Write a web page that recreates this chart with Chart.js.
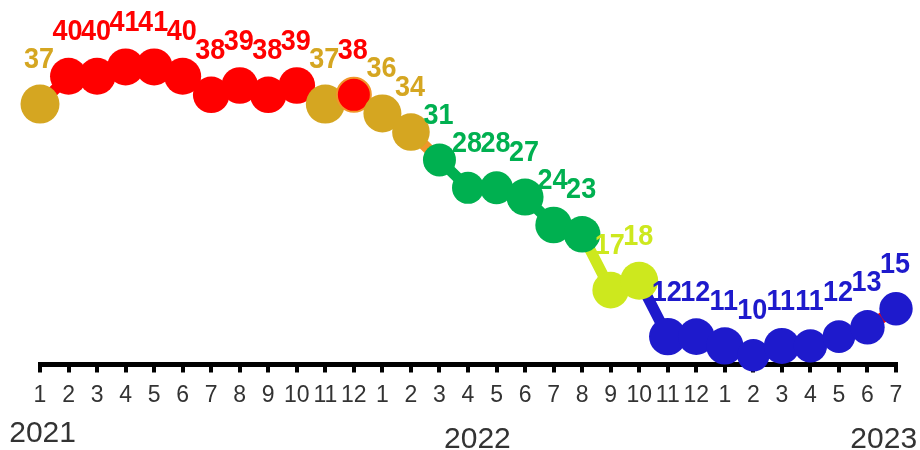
<!DOCTYPE html>
<html><head><meta charset="utf-8">
<script src="https://cdn.jsdelivr.net/npm/chart.js@4.4.1/dist/chart.umd.min.js"></script>
<style>html,body{margin:0;padding:0;background:#fff;}canvas{display:block;}</style>
</head><body>
<canvas id="c" width="920" height="450"></canvas>
<script>
// ---- data ----
const monthLabels = ['1','2','3','4','5','6','7','8','9','10','11','12',
                     '1','2','3','4','5','6','7','8','9','10','11','12',
                     '1','2','3','4','5','6','7'];
const yearLabels = ['2021','2022','2023'];
const values = [37,40,40,41,41,40,38,39,38,39,37,38,
                36,34,31,28,28,27,24,23,17,18,12,12,
                11,10,11,11,12,13,15];

// ---- styles ----
const RED='#FF0000', GOLD='#D5A621', GREEN='#00B050', YGREEN='#CDE81E', BLUE='#1E1ACC', ORANGE='#F0962A';
function colorFor(v){
  if (v >= 38) return RED;
  if (v >= 32) return GOLD;
  if (v >= 19) return GREEN;
  if (v >= 16) return YGREEN;
  return BLUE;
}
const pointRadii = [19.5,18.5,18.5,18.5,18.5,18.5,18.3,18.3,18.3,18.3,19.5,17,
                    19,18.8,16.5,16,16.5,18.5,18.3,18.3,18.3,19,18.7,18.3,
                    18.7,16.2,18,16.7,16.3,17.2,16.7];
const pointBorderColors = values.map((v,i)=> i===11 ? ORANGE : colorFor(v));
const pointBorderWidths = values.map((v,i)=> i===11 ? 2 : 0);
const segmentOverride = {13: ORANGE, 29: RED};
const yearAnchors = [0.09, 15.33, 29.57];   // category positions of the year captions
const yearBaselineOffsets = [77.5, 83, 83.5]; // below axis line

const labelPlugin = {
  id: 'valueLabels',
  afterDatasetsDraw(chart){
    const ctx = chart.ctx;
    const meta = chart.getDatasetMeta(0);
    ctx.save();
    ctx.font = 'bold 27px "Liberation Sans", Arial, sans-serif';
    ctx.textAlign = 'center';
    ctx.textBaseline = 'alphabetic';
    meta.data.forEach((pt, i) => {
      ctx.fillStyle = colorFor(values[i]);
      ctx.save();
      ctx.translate(pt.x - 1, pt.y - 36);
      ctx.scale(1, 1.06);
      ctx.fillText(String(values[i]), 0, 0);
      ctx.restore();
    });
    // year captions
    const xs = chart.scales.x;
    ctx.font = '30px "Liberation Sans", Arial, sans-serif';
    ctx.fillStyle = '#333333';
    yearLabels.forEach((y, i) => {
      ctx.fillText(y, xs.getPixelForValue(yearAnchors[i]), xs.top + yearBaselineOffsets[i]);
    });
    ctx.restore();
  }
};

new Chart(document.getElementById('c'), {
  type: 'line',
  data: {
    labels: monthLabels,
    datasets: [{
      data: values,
      borderWidth: 11,
      borderColor: BLUE,
      pointRadius: pointRadii,
      pointHoverRadius: pointRadii,
      pointBackgroundColor: values.map(colorFor),
      pointBorderColor: pointBorderColors,
      pointBorderWidth: pointBorderWidths,
      tension: 0,
      clip: false,
      segment: {
        borderColor: ctx => segmentOverride[ctx.p0DataIndex] || colorFor(values[ctx.p1DataIndex])
      }
    }]
  },
  options: {
    responsive: false,
    animation: false,
    events: [],
    layout: { padding: { left: 40, right: 24, top: 0, bottom: 0 } },
    plugins: { legend: { display: false }, tooltip: { enabled: false } },
    scales: {
      x: {
        offset: false,
        afterFit: s => { s.height = 85.5; },
        border: { display: true, color: '#000', width: 5 },
        grid: { drawOnChartArea: false, drawTicks: true, tickLength: 8, tickWidth: 4, tickColor: '#000', color: '#000', lineWidth: 4 },
        ticks: { color: '#333333', font: { family: '"Liberation Sans", Arial, sans-serif', size: 23 }, padding: 9, maxRotation: 0, autoSkip: false }
      },
      y: { display: false, min: 9, max: 46.1 }
    }
  },
  plugins: [labelPlugin]
});
</script>
</body></html>
